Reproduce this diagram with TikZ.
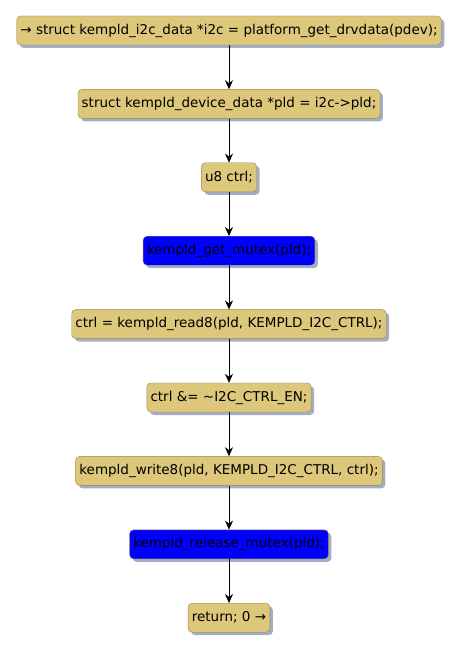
\documentclass[tikz,border=0pt]{standalone}
\usepackage{fontspec}
\setmainfont{DejaVu Sans}
\usepackage{xcolor}
\definecolor{kbox}{HTML}{DDC77B}
\definecolor{kline}{HTML}{9A8550}
\definecolor{kshade}{HTML}{A3AEC4}
\usetikzlibrary{arrows.meta,positioning,shadows}
\tikzset{
  kstep/.style={draw=kline,rounded corners=4pt,fill=kbox,inner xsep=3.7pt,inner ysep=0pt,minimum height=29pt,font=\fontsize{13.5}{15}\selectfont,drop shadow={shadow xshift=3pt,shadow yshift=-3pt,fill=kshade,opacity=1}},
  kmutex/.style={kstep,fill=blue},
  kflow/.style={-{Stealth[length=9pt,width=8pt,inset=3pt]},semithick},
}

\begin{document}
\begin{tikzpicture}[x=1pt,y=1pt,node distance=44pt]
\useasboundingbox (0,0) rectangle (461,-655);
\node[kstep] (drv) at (229,-30.5) {→ struct kempld\_i2c\_data *i2c = platform\_get\_drvdata(pdev);};
\node[kstep,below=of drv] (pld) {struct kempld\_device\_data *pld = i2c->pld;};
\node[kstep,below=of pld] (ctl) {u8 ctrl;};
\node[kmutex,below=of ctl] (get) {kempld\_get\_mutex(pld);};
\node[kstep,below=of get] (rd) {ctrl = kempld\_read8(pld, KEMPLD\_I2C\_CTRL);};
\node[kstep,below=of rd] (clr) {ctrl \&= \textasciitilde I2C\_CTRL\_EN;};
\node[kstep,below=of clr] (wr) {kempld\_write8(pld, KEMPLD\_I2C\_CTRL, ctrl);};
\node[kmutex,below=of wr] (rel) {kempld\_release\_mutex(pld);};
\node[kstep,below=of rel] (ret) {return; 0 →};
\draw[kflow](drv)--(pld);
\draw[kflow](pld)--(ctl);
\draw[kflow](ctl)--(get);
\draw[kflow](get)--(rd);
\draw[kflow](rd)--(clr);
\draw[kflow](clr)--(wr);
\draw[kflow](wr)--(rel);
\draw[kflow](rel)--(ret);
\end{tikzpicture}
\end{document}
